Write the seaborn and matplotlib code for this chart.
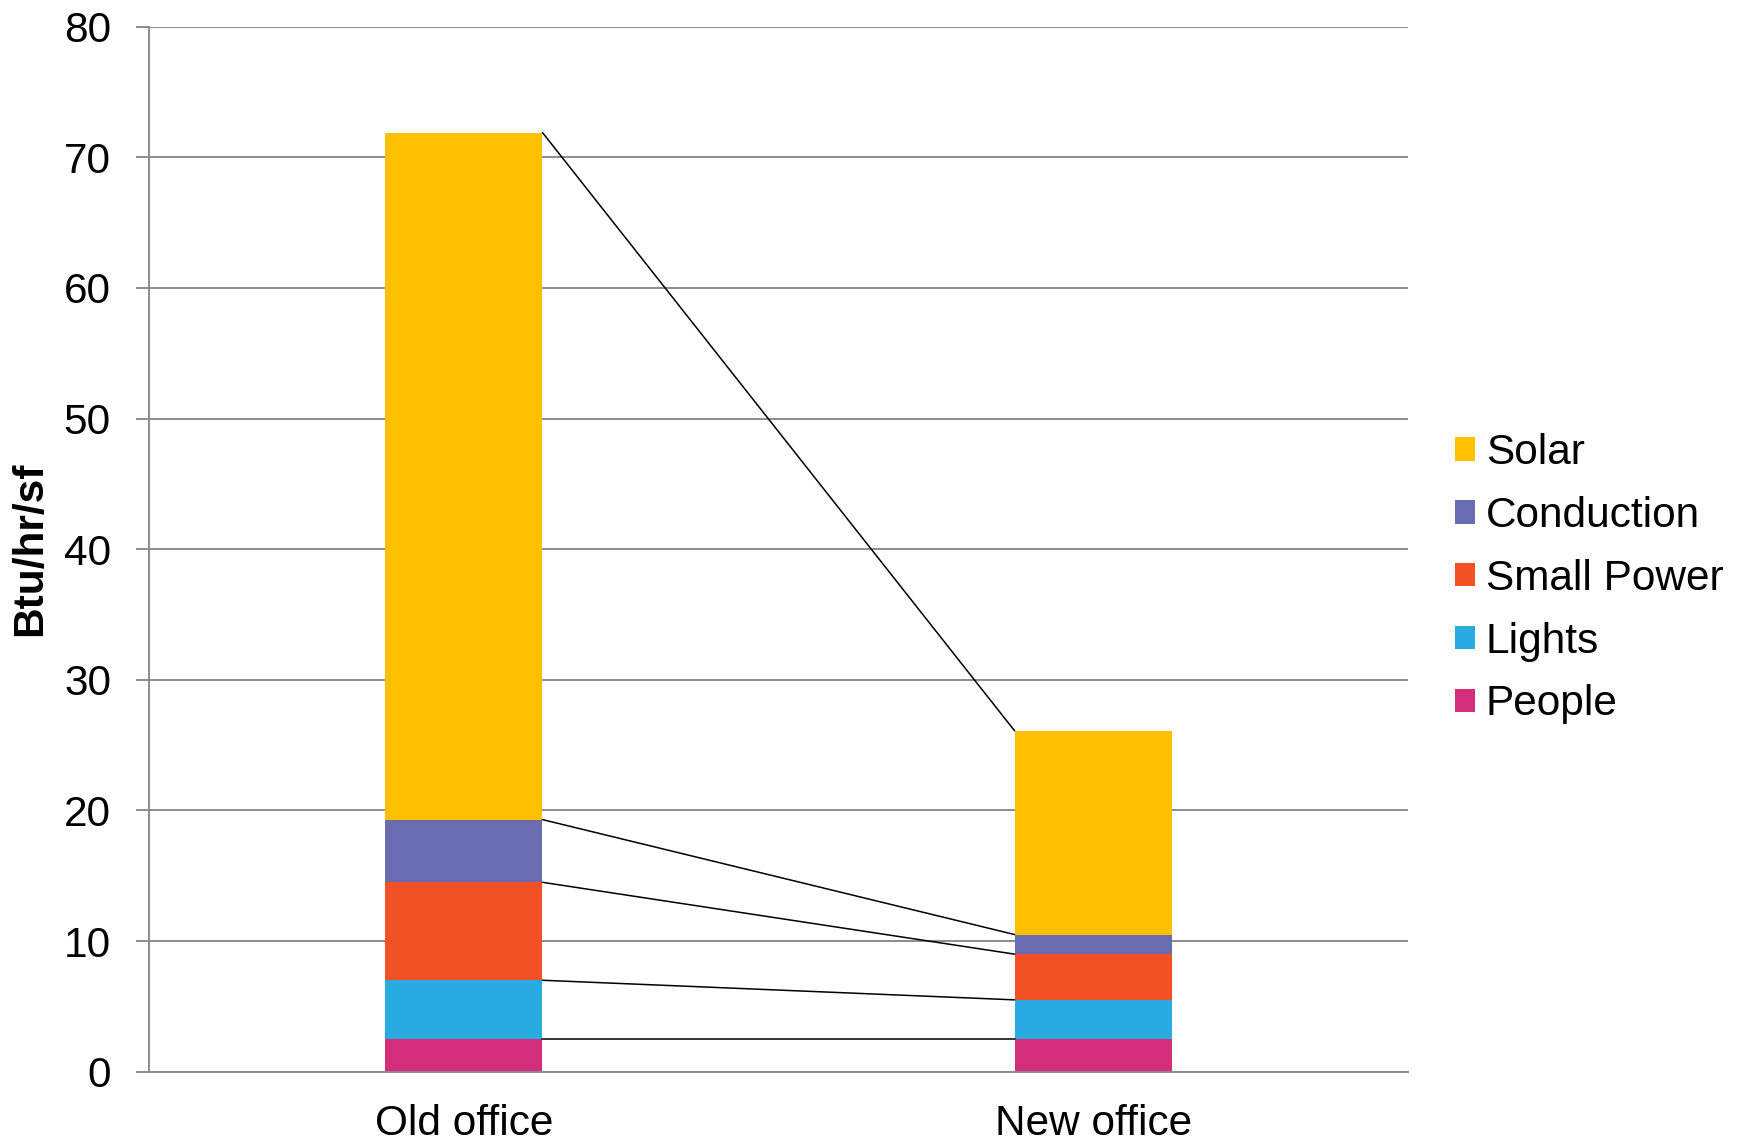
import numpy as np
import pandas as pd
import seaborn as sns
import matplotlib.pyplot as plt
from matplotlib.patches import Patch

# Data (Btu/hr/sf), stacked bottom to top
CATEGORIES = ['Old office', 'New office']
SERIES = ['People', 'Lights', 'Small Power', 'Conduction', 'Solar']
PEOPLE = [2.5, 2.5]
LIGHTS = [4.5, 3.0]
SMALL_POWER = [7.5, 3.5]
CONDUCTION = [4.8, 1.5]
SOLAR = [52.6, 15.6]
COLORS = ['#D32D7B', '#29AAE1', '#F15125', '#6A6CB2', '#FFC000']

BAR_WIDTH = 0.25
FS = 30.5

sns.set_style('white')
plt.rcParams['font.family'] = ['Liberation Sans', 'DejaVu Sans']
plt.rcParams['text.color'] = 'black'
plt.rcParams['axes.labelcolor'] = 'black'
plt.rcParams['xtick.color'] = 'black'
plt.rcParams['ytick.color'] = 'black'

# cumulative tops for each layer
values = np.array([PEOPLE, LIGHTS, SMALL_POWER, CONDUCTION, SOLAR])
tops = np.cumsum(values, axis=0)
df = pd.DataFrame(tops.T, columns=SERIES)
df['Category'] = CATEGORIES

fig = plt.figure(figsize=(17.45, 11.45), dpi=100)
ax = fig.add_axes([149 / 1745, 1 - 1071.7 / 1145, 1259 / 1745, (1071.7 - 26.7) / 1145])

# draw tallest cumulative bar first, smaller ones over it
for name, color in reversed(list(zip(SERIES, COLORS))):
    sns.barplot(data=df, x='Category', y=name, color=color, width=BAR_WIDTH,
                saturation=1, edgecolor='none', ax=ax, zorder=3)

# series lines joining the layer tops
for i in range(len(SERIES)):
    ax.plot([0 + BAR_WIDTH / 2, 1 - BAR_WIDTH / 2], tops[i], color='black', lw=1.1, zorder=4)

ax.set_xlim(-0.5, 1.5)
ax.set_ylim(0, 80)
ax.set_yticks(range(0, 81, 10))
ax.grid(axis='y', color='#8c8c8c', lw=1.4, zorder=0)
ax.grid(axis='x', visible=False)
for side in ['top', 'right']:
    ax.spines[side].set_visible(False)
for side in ['left', 'bottom']:
    ax.spines[side].set_color('#8c8c8c')
    ax.spines[side].set_linewidth(1.4)
    ax.spines[side].set_zorder(5)

ax.tick_params(axis='y', left=True, length=9.4, width=1.4, color='#8c8c8c',
               labelcolor='black', pad=18, labelsize=FS)
ax.tick_params(axis='x', bottom=False, length=0, pad=23.5, labelcolor='black', labelsize=FS)
ax.set_xlabel('')
ax.set_ylabel('Btu/hr/sf', fontsize=FS, fontweight='bold', color='black')
ax.yaxis.set_label_coords(-0.0786, 0.5)

handles = [Patch(facecolor=c, edgecolor='none') for c in reversed(COLORS)]
fig.legend(handles, list(reversed(SERIES)), loc='center left',
           bbox_to_anchor=(1455 / 1745, 0.4946), frameon=False, fontsize=FS,
           handlelength=0.48, handleheight=0.48, handletextpad=0.25,
           labelspacing=0.54, borderpad=0, borderaxespad=0, labelcolor='black')

plt.savefig('out.png', dpi=100)
